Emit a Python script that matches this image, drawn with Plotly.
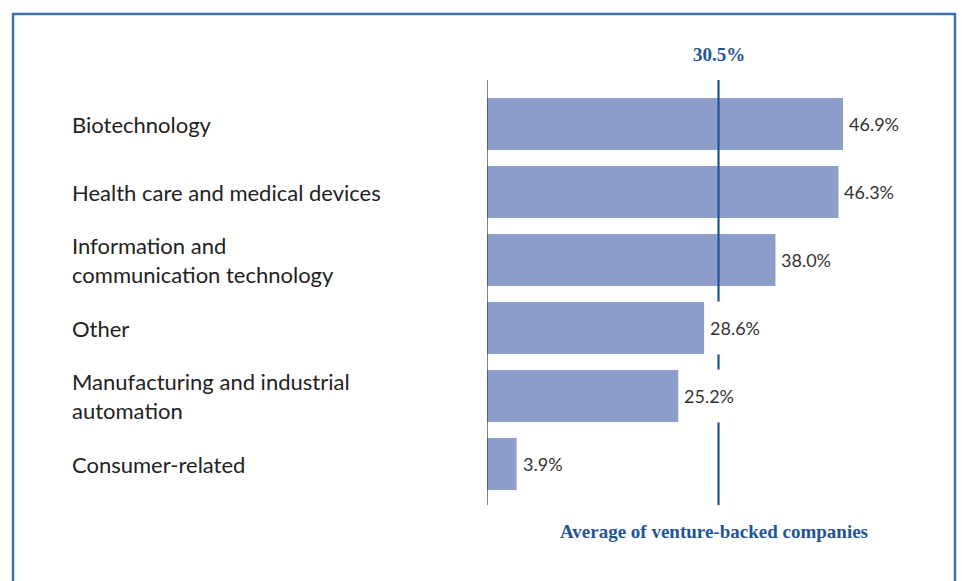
import plotly.graph_objects as go

categories = ["Biotechnology", "Health care and medical devices",
              "Information and<br>communication technology", "Other",
              "Manufacturing and industrial<br>automation", "Consumer-related"]
values = [46.9, 46.3, 38.0, 28.6, 25.2, 3.9]
value_labels = ["46.9%", "46.3%", "38.0%", "28.6%", "25.2%", "3.9%"]
average = 30.5
average_label = "30.5%"
average_title = "Average of venture-backed companies"

W, H = 962, 581
L, R, T, B = 487, 900, 80, 505
px_per_unit = (843 - 487) / 46.9
xmax = (R - L) / px_per_unit

ypos = list(range(len(categories)))

fig = go.Figure()
fig.add_trace(go.Bar(
    x=values, y=ypos, orientation="h",
    marker=dict(color="#8c9ec9", line=dict(width=0)),
    width=52/68, hoverinfo="skip"))

def px2paper_x(p):
    return (p - L) / (R - L)

def px2paper_y(p):
    return (B - p) / (B - T)

shapes = [
    dict(type="rect", xref="paper", yref="paper",
         x0=px2paper_x(13), x1=px2paper_x(955), y0=px2paper_y(600), y1=px2paper_y(14),
         line=dict(color="#3f70aa", width=2.5), fillcolor="rgba(0,0,0,0)", layer="below"),
    dict(type="line", xref="x", yref="paper", x0=0, x1=0, y0=0, y1=1,
         line=dict(color="#333333", width=1.2)),
    dict(type="line", xref="x", yref="paper", x0=average, x1=average, y0=0, y1=1,
         line=dict(color="#1f5596", width=2.2), layer="above"),
]

label_font = dict(family="Lato, sans-serif", size=22, color="#222222")
annotations = []
for yi, cat in zip(ypos, categories):
    annotations.append(dict(x=px2paper_x(70), xref="paper", y=yi, yref="y",
                            text=cat, showarrow=False, xanchor="left", yanchor="middle",
                            align="left", font=label_font))
for yi, v, lab in zip(ypos, values, value_labels):
    annotations.append(dict(x=v, xref="x", y=yi, yref="y", text=lab, showarrow=False,
                            xanchor="left", yanchor="middle", xshift=5,
                            bgcolor="white", height=52, borderpad=0,
                            font=dict(family="Lato, sans-serif", size=18, color="#333333")))
annotations.append(dict(x=average, xref="x", y=px2paper_y(55), yref="paper",
                        text="<b>" + average_label + "</b>", showarrow=False,
                        xanchor="center", yanchor="middle",
                        font=dict(family="Liberation Serif, serif", size=19, color="#1f5596")))
annotations.append(dict(x=px2paper_x(714), xref="paper", y=px2paper_y(531), yref="paper",
                        text="<b>" + average_title + "</b>", showarrow=False,
                        xanchor="center", yanchor="middle",
                        font=dict(family="Liberation Serif, serif", size=19, color="#1f5596")))

fig.update_layout(
    width=W, height=H, margin=dict(l=L, r=W - R, t=T, b=H - B),
    paper_bgcolor="white", plot_bgcolor="white", showlegend=False,
    xaxis=dict(range=[0, xmax], visible=False, fixedrange=True),
    yaxis=dict(range=[5 + 41/68, -44/68], visible=False, fixedrange=True),
    shapes=shapes, annotations=annotations,
)
fig.write_html("out.html", config={"displayModeBar": False},
               post_script="document.body.style.margin='0';")
